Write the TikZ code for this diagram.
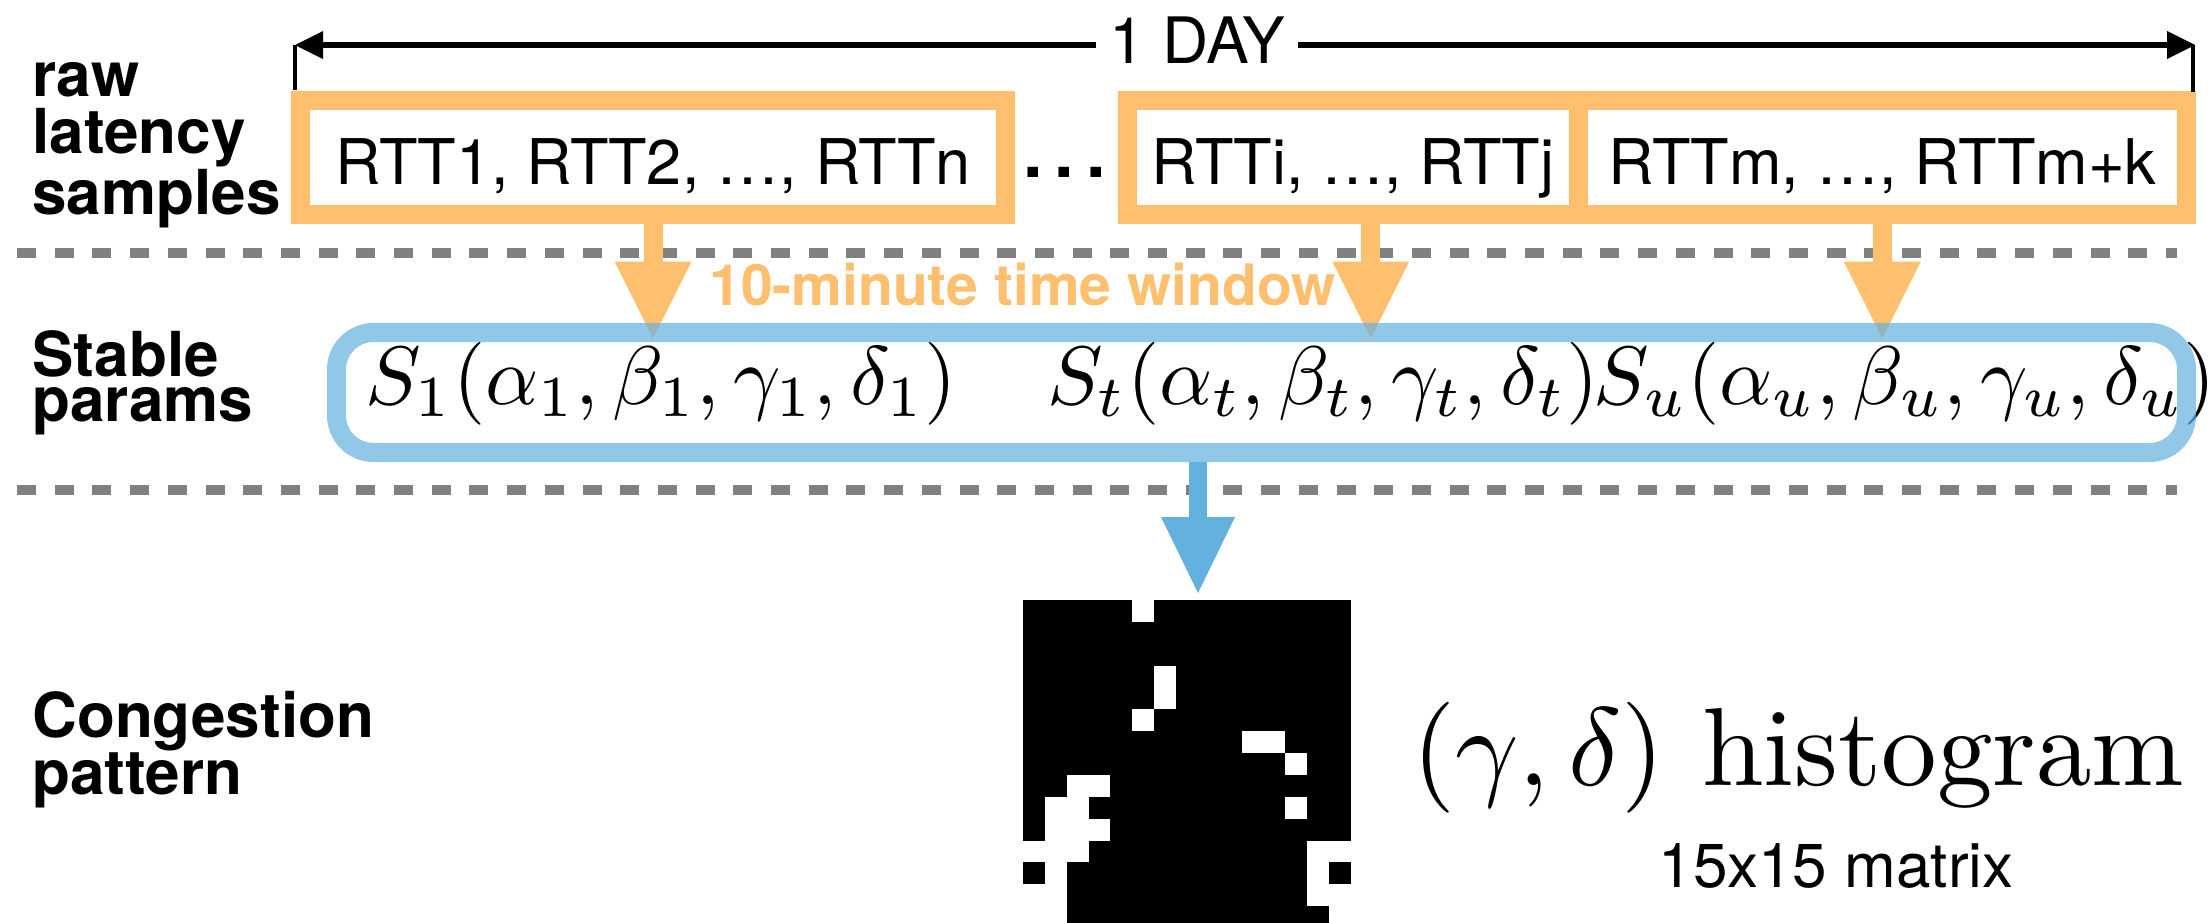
\RequirePackage{fix-cm}
\documentclass[tikz,border=0pt]{standalone}
\usepackage{fontspec}
\newfontfamily\helv{TeX Gyre Heros}
\usetikzlibrary{positioning,calc,backgrounds,arrows.meta}

\definecolor{winorange}{RGB}{254,191,111}
\definecolor{parblue}{RGB}{98,177,222}
\definecolor{sepgray}{RGB}{128,128,128}

\begin{document}
\begin{tikzpicture}[
    x=0.5pt, y=-0.5pt,
    rowlbl/.style={font=\helv\bfseries\fontsize{31}{28.5}\selectfont, align=left, anchor=north west, inner sep=0pt},
    rttbox/.style={draw=winorange, line width=9.5pt, minimum height=57pt, inner sep=0pt, outer sep=0pt, text height=27pt, text depth=0pt, font=\helv\fontsize{31.5}{36}\selectfont},
    parbox/.style={draw=parblue, draw opacity=0.7, line width=9.5pt, rounded corners=18.5pt, inner sep=0pt, outer sep=0pt},
    mathlbl/.style={anchor=base west, inner sep=0pt, outer sep=0pt, scale=4.15},
    winarrow/.style={draw=winorange, line width=9.5pt, -{Triangle[length=38.5pt, width=38.5pt, line width=0pt]}},
    pararrow/.style={draw=parblue, line width=9pt, -{Triangle[length=38pt, width=37pt, line width=0pt]}},
    dayline/.style={line width=3pt, -{Triangle[length=14pt, width=14pt, line width=0pt]}},
    daytick/.style={line width=2pt},
    sepline/.style={draw=sepgray, line width=5pt, dash pattern=on 9.5pt off 9.35pt},
]
\useasboundingbox (0,0) rectangle (2209,922);

% row labels
\node[rowlbl] (raw) at (32,62) {raw\\latency\\samples};
\node[rowlbl, font=\helv\bfseries\fontsize{31}{22.5}\selectfont] (stable) at (32,330) {Stable\\params};
\node[rowlbl, font=\helv\bfseries\fontsize{31}{27}\selectfont] (cong) at (32,691) {Congestion\\pattern};

% raw sample windows
\node[rttbox, minimum width=352.5pt] (w1) at (653,157) {RTT1, RTT2, …, RTTn};
\node[rttbox, minimum width=225.25pt] (w2) at (1352.75,157) {RTTi, …, RTTj};
\node[rttbox, minimum width=304.25pt, right=0pt of w2] (w3) {RTTm, …, RTTm+k};
\node[anchor=base west, inner sep=0pt, font=\helv\bfseries\fontsize{35}{40}\selectfont] (gap) at (1023,177) {.\kern6pt.\kern6pt.};

% one day span
\node[anchor=base, inner xsep=6.5pt, inner ysep=0pt, font=\helv\fontsize{32}{36}\selectfont] (day) at (1197,63) {1 DAY};
\coordinate (dayL) at (295,45);
\coordinate (dayR) at (2195,45);
\draw[dayline] (day.west |- dayL) -- (dayL);
\draw[dayline] (day.east |- dayR) -- (dayR);
\draw[daytick] (dayL) -- ++(0,45);
\draw[daytick] ($(dayR)+(-2,0)$) -- ++(0,47);

% window label
\node[anchor=base west, inner sep=0pt, text=winorange, font=\helv\bfseries\fontsize{28.5}{32}\selectfont] (win) at (709,305) {10-minute time window};

% stable params
\node[mathlbl] (s1) at (365,404) {$S_1(\alpha_1,\beta_1,\gamma_1,\delta_1)$};
\node[mathlbl] (st) at (1047,404) {$S_t(\alpha_t,\beta_t,\gamma_t,\delta_t)$};
\node[mathlbl, right=-3pt of st] (su) {$S_u(\alpha_u,\beta_u,\gamma_u,\delta_u)$};
\node[parbox, minimum width=925pt, minimum height=60pt] (params) at (1261.5,392.5) {};

% congestion histogram
\node[inner sep=0pt, outer sep=0pt, minimum size=164pt, anchor=north west] (hist) at (1023,600) {};
\fill (hist.north west) rectangle (hist.south east);
\begin{scope}[shift={(hist.north west)}, x=10.9333pt, y=-10.9333pt]
\foreach \c/\r in {5/0, 6/3, 6/4, 5/5, 10/6, 11/6, 12/7, 2/8, 3/8, 1/9, 2/9, 12/9,
    1/10, 2/10, 3/10, 0/11, 1/11, 2/11, 13/11, 14/11, 1/12, 13/12,
    0/13, 1/13, 13/13, 14/13, 0/14, 1/14, 14/14}
    \fill[white] (\c,\r) rectangle ++(1,1);
\end{scope}
\node[anchor=base west, inner sep=0pt, scale=5.55] (histname) at (1410,785) {$(\gamma,\delta)$ histogram};
\node[anchor=base, inner sep=0pt, font=\helv\fontsize{31}{36}\selectfont] (histsize) at (1836,887) {15x15 matrix};

% separators and arrows
\coordinate (hx) at (1198,0);
\begin{scope}[on background layer]
\draw[sepline] (17,253) -- (2177,253);
\draw[sepline] (17,490) -- (2177,490);
\draw[winarrow] (w1.south) -- ($(w1.south |- params.north)+(0,6)$);
\draw[winarrow] ($(w2.south)+(18,0)$) -- ($(w2.south |- params.north)+(18,6)$);
\draw[winarrow] (w3.south) -- ($(w3.south |- params.north)+(0,6)$);
\draw[pararrow] ($(params.south -| hx)+(0,9.5)$) -- ($(hist.north -| hx)+(0,-7)$);
\end{scope}
\end{tikzpicture}
\end{document}
